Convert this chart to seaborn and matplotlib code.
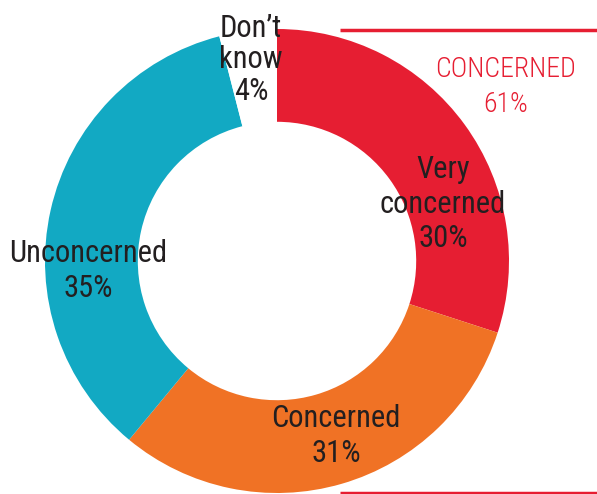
import matplotlib
matplotlib.use("Agg")
import matplotlib.pyplot as plt
from matplotlib import font_manager
import seaborn as sns

# Survey shares, clockwise from 12 o'clock
categories = ["Very concerned", "Concerned", "Unconcerned", "Don\u2019t know"]
shares = [30, 31, 35, 4]
label_text = ["Very\nconcerned\n30%", "Concerned\n31%", "Unconcerned\n35%", "Don\u2019t\nknow\n4%"]
total_label = "CONCERNED\n61%"

sns.set_theme(style="white")

# Prefer a narrow sans face for the labels
fonts = font_manager.fontManager.ttflist
names = {f.name for f in fonts}
stretch = "normal"
if "Roboto Condensed" in names:
    family = "Roboto Condensed"
elif "Liberation Sans Narrow" in names:
    family = "Liberation Sans Narrow"
elif any(f.name == "DejaVu Sans" and f.stretch == "condensed" for f in fonts):
    family, stretch = "DejaVu Sans", "condensed"
else:
    family = "Roboto"
plt.rcParams["font.family"] = [family, "DejaVu Sans"]

palette = sns.color_palette(["#E61E32", "#F07225", "#12A9C3", "#FFFFFF"])
ink = "#231F20"

W, H = 597, 494
fig = plt.figure(figsize=(W / 100, H / 100), dpi=100)
ax = fig.add_axes([0, 0, 1, 1])

cx, cy, r = 277, 261, 232
ax.pie(shares, colors=palette, startangle=90, counterclock=False,
       radius=r, center=(cx, -cy),
       wedgeprops=dict(width=r * 0.4, linewidth=0))
# pie draws in y-up coordinates; flip the wedges into the pixel frame
for p in ax.patches:
    p.set_transform(matplotlib.transforms.Affine2D().scale(1, -1) + ax.transData)
ax.set_xlim(0, W)
ax.set_ylim(H, 0)
ax.set_aspect("auto")
ax.axis("off")

kw = dict(ha="center", va="center", fontsize=22, color=ink,
          linespacing=1.25, fontstretch=stretch)
ax.text(443, 204, label_text[0], **kw)
ax.text(336, 436, label_text[1], **kw)
ax.text(88, 271, label_text[2], **kw)
ax.text(251, 60, label_text[3], **dict(kw, linespacing=1.13))
ax.text(506, 87, total_label, ha="center", va="center", fontsize=20,
        color=palette[0], linespacing=1.34, fontstretch=stretch,
        fontweight="light")

# Bracket rules marking the combined "concerned" share
ax.plot([340, W], [30, 30], color=palette[0], lw=2.5, solid_capstyle="butt")
ax.plot([340, W], [492.5, 492.5], color=palette[0], lw=2.5, solid_capstyle="butt")

fig.savefig("out.png", dpi=100, facecolor="white")
